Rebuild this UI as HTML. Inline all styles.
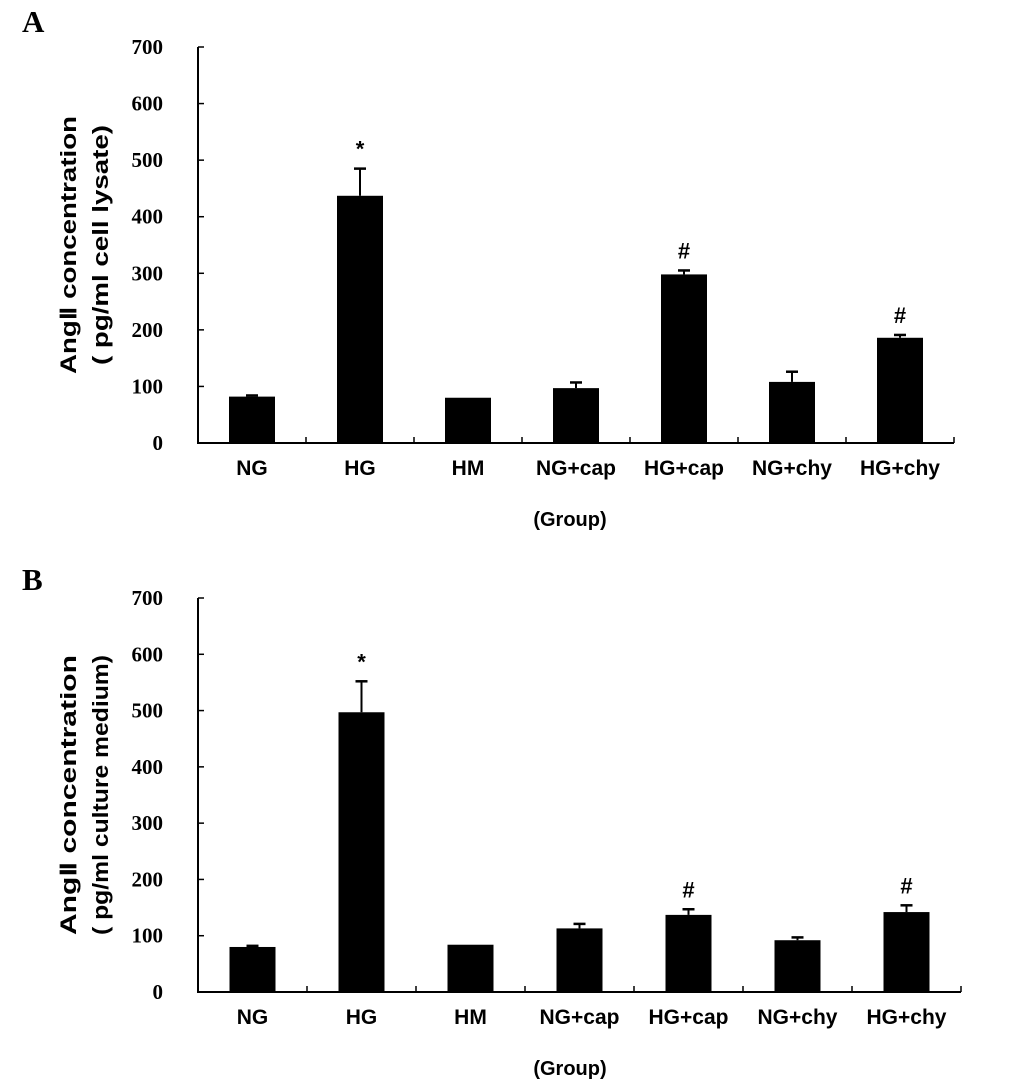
<!DOCTYPE html>
<html><head><meta charset="utf-8"><style>
body{margin:0;background:#fff;}
svg text{font-family:"Liberation Sans",Arial,sans-serif;font-weight:bold;fill:#000;}
svg text.tick{font-family:"Liberation Serif",serif;}
</style></head><body>
<svg id="chart" width="1033" height="1082" xmlns="http://www.w3.org/2000/svg">
<text x="22" y="32" style="font-family:'Liberation Serif',serif;font-size:31px">A</text>
<text x="22" y="590" style="font-family:'Liberation Serif',serif;font-size:31px">B</text>
</svg>
<script>
const categories=["NG","HG","HM","NG+cap","HG+cap","NG+chy","HG+chy"];
const valuesA=[82,437,80,97,298,108,186];
const errorsA=[2,48,0,10,7,18,5];
const marksA=["","*","","","#","","#"];
const valuesB=[80,497,84,113,137,92,142];
const errorsB=[2,55,0,8,10,5,12];
const marksB=["","*","","","#","","#"];
const yTicks=[0,100,200,300,400,500,600,700];
const titlesA=["Ang\u2161 concentration","( pg/ml cell lysate)"];
const titlesB=["Ang\u2161 concentration","( pg/ml culture medium)"];

const svg=document.getElementById('chart');
const NS="http://www.w3.org/2000/svg";
function mk(tag,attrs,parent){const e=document.createElementNS(NS,tag);for(const k in attrs)e.setAttribute(k,attrs[k]);(parent||svg).appendChild(e);return e;}

function panel(p,vals,errs,marks,titles,titleLens,y0,y700,groupW){
  const g=mk('g',{});
  
  
  const x0=198;
  const yS=v=>y0-(y0-y700)*v/700;
  const xS=i=>x0+groupW*(i+0.5);
  const xEnd=x0+groupW*categories.length;
  const ax=mk('path',{d:`M${x0},${y700} V${y0} H${xEnd}`,stroke:'#000','stroke-width':2,fill:'none'},g);
  
  
  yTicks.forEach(t=>{
    mk('line',{x1:x0,x2:x0+6,y1:yS(t),y2:yS(t),stroke:'#000','stroke-width':1.5},g);
    const tx=mk('text',{x:x0-35,y:yS(t)+7,'text-anchor':'end','font-size':21,'class':'tick'},g);
    tx.textContent=t;
    
    
  });
  for(let i=1;i<=categories.length;i++){
    mk('line',{x1:x0+groupW*i,x2:x0+groupW*i,y1:y0,y2:y0-6,stroke:'#000','stroke-width':1.5},g);
  }
  categories.forEach((c,i)=>{
    const v=vals[i],cx=xS(i),w=46;
    if(errs[i]>0){
      mk('line',{x1:cx,x2:cx,y1:yS(v),y2:yS(v+errs[i]),stroke:'#000','stroke-width':2},g);
      mk('line',{x1:cx-6,x2:cx+6,y1:yS(v+errs[i]),y2:yS(v+errs[i]),stroke:'#000','stroke-width':2.5},g);
    }
    const r=mk('rect',{x:cx-w/2,y:yS(v),width:w,height:y0-yS(v),fill:'#000'},g);
    
    
    if(marks[i]){
      const m=mk('text',{x:cx,y:yS(v+errs[i])-12,'text-anchor':'middle','font-size':22},g);
      m.textContent=marks[i];
      
      
    }
    const lb=mk('text',{x:cx,y:y0+32,'text-anchor':'middle','font-size':21},g);
    lb.textContent=c;
    
    
  });
  const xt=mk('text',{x:570,y:y0+83,'text-anchor':'middle','font-size':20},g);
  xt.textContent='(Group)';
  
  
  const ym=(y0+y700)/2;
  titles.forEach((t,k)=>{
    const yt=mk('text',{x:0,y:0,'text-anchor':'middle','font-size':22,textLength:titleLens[k],lengthAdjust:'spacingAndGlyphs',transform:`translate(${76+k*32},${ym}) rotate(-90)`},g);
    yt.textContent=t;
    
    
  });
}
panel('a',valuesA,errorsA,marksA,titlesA,[258,240],443,47,108);
panel('b',valuesB,errorsB,marksB,titlesB,[280,280],992,598,109);
</script>
</body></html>
